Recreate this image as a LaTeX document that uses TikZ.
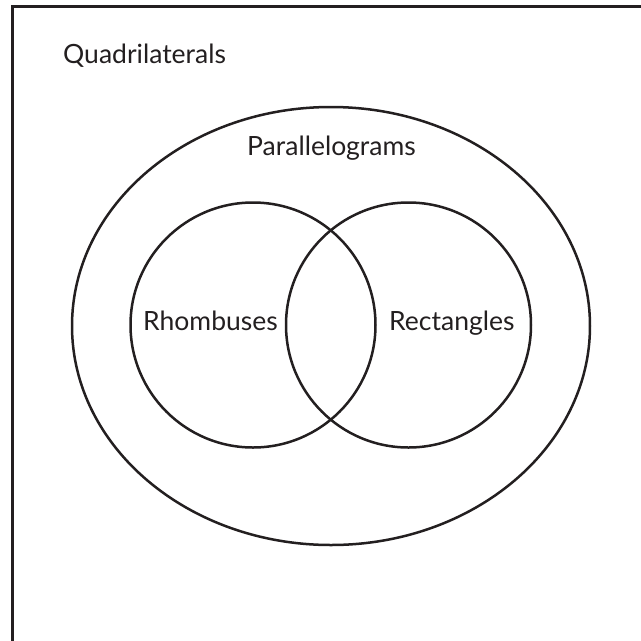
\documentclass[tikz,border=0pt]{standalone}
\usepackage{fontspec}
\setmainfont{Lato}
\definecolor{ink}{HTML}{231F20}
\begin{document}
\begin{tikzpicture}[x=1pt,y=-1pt,
  lbl/.style={font=\fontsize{26.5}{30}\selectfont, text=ink, inner sep=0pt, anchor=base west},
  setline/.style={draw=ink, line width=2.5pt}]
\useasboundingbox (0,0) rectangle (641,641);
\begin{scope}
\clip (0,0) rectangle (641,641);
\draw[draw=ink, line width=3pt] (12.5,6.5) rectangle (660,660);
\end{scope}
\draw[setline] (331,326) ellipse [x radius=259, y radius=219];
\draw[setline] (253,325) circle [radius=122.5];
\draw[setline] (408.5,325) circle [radius=122.5];
\node[lbl] (quad) at (63,63) {Quadrilaterals};
\node[lbl] (para) at (247,155) {Parallelograms};
\node[lbl] (rhom) at (143,330) {Rhombuses};
\node[lbl] (rect) at (389,330) {Rectangles};
\end{tikzpicture}
\end{document}
